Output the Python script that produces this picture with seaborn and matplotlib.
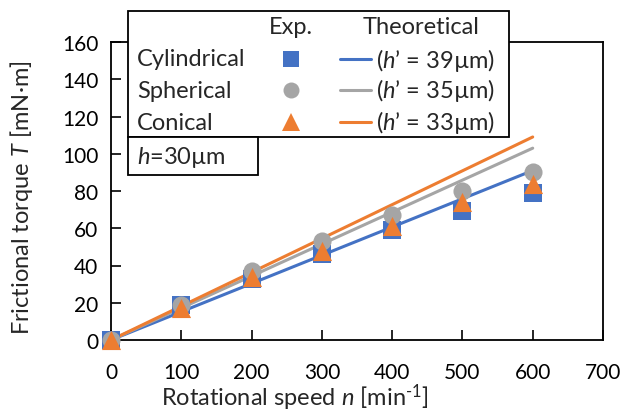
import matplotlib
matplotlib.use("Agg")
import matplotlib.pyplot as plt
import seaborn as sns
import pandas as pd
from matplotlib.patches import Rectangle
from matplotlib.lines import Line2D

# ---- data ----
speed = [0, 100, 200, 300, 400, 500, 600]
exp_cylindrical = [0, 19, 33, 46, 59, 69, 79]
exp_spherical = [0, 19, 37, 53, 67, 80, 90]
exp_conical = [0, 17, 34, 48, 61, 74, 84]

theory_speed = [0, 600]
theory_cylindrical = [0, 91]
theory_spherical = [0, 103]
theory_conical = [0, 109]

shapes = ["Cylindrical", "Spherical", "Conical"]
theory_h = ["39", "35", "33"]
x_ticks = [0, 100, 200, 300, 400, 500, 600, 700]
y_ticks = [0, 20, 40, 60, 80, 100, 120, 140, 160]

colors = {"Cylindrical": "#4472C4", "Spherical": "#A5A5A5", "Conical": "#ED7D31"}
markers = {"Cylindrical": "s", "Spherical": "o", "Conical": "^"}

exp_df = pd.DataFrame({
    "n": speed * 3,
    "T": exp_cylindrical + exp_spherical + exp_conical,
    "shape": sum([[s] * len(speed) for s in shapes], []),
})
th_df = pd.DataFrame({
    "n": theory_speed * 3,
    "T": theory_cylindrical + theory_spherical + theory_conical,
    "shape": sum([[s] * len(theory_speed) for s in shapes], []),
})

sns.set_style("ticks")
plt.rcParams["font.family"] = ["Lato", "DejaVu Sans"]
plt.rcParams["mathtext.fontset"] = "custom"
plt.rcParams["mathtext.it"] = "Lato:italic"
plt.rcParams["mathtext.rm"] = "Lato"

fig = plt.figure(figsize=(6.25, 4.14), dpi=100)
W, H = 625, 414
ax = fig.add_axes([111 / W, 1 - 341 / H, (603 - 111) / W, (341 - 43) / H])

sns.lineplot(data=th_df, x="n", y="T", hue="shape", palette=colors,
             linewidth=2.2, legend=False, ax=ax, zorder=2)
for s in shapes:
    sub = exp_df[exp_df["shape"] == s]
    sns.scatterplot(data=sub, x="n", y="T", color=colors[s], marker=markers[s],
                    s=170 if s != "Conical" else 190, linewidth=0, legend=False,
                    ax=ax, zorder=3)

ax.set_xlim(0, 700)
ax.set_ylim(0, 160)
ax.set_xticks(x_ticks)
ax.set_yticks(y_ticks)
ax.tick_params(direction="in", length=7, width=1.2, labelsize=15, colors="black")
ax.tick_params(axis="x", pad=16)
ax.tick_params(axis="y", pad=9)
for sp in ax.spines.values():
    sp.set_visible(True)
    sp.set_linewidth(1.3)
    sp.set_color("black")
ax.set_xlabel("Rotational speed $n$ [min$^{\\text{-1}}$]", fontsize=17, va="center")
ax.xaxis.set_label_coords(0.374, -0.19)
ax.set_ylabel("Frictional torque $T$ [mN\u00b7m]", fontsize=17, va="center")
ax.yaxis.set_label_coords(-0.181, 0.48)
ax.margins(0)
for c in ax.collections:
    c.set_clip_on(False)

# ---- custom table legend ----
def fx(px):
    return px / W

def fy(py):
    return 1 - py / H

fig.patches.append(Rectangle((fx(128), fy(138)), fx(509) - fx(128), fy(12) - fy(138),
                             transform=fig.transFigure, facecolor="white",
                             edgecolor="black", linewidth=1.3, zorder=10))
fig.patches.append(Rectangle((fx(128), fy(176)), fx(258) - fx(128), fy(138) - fy(176),
                             transform=fig.transFigure, facecolor="white",
                             edgecolor="black", linewidth=1.3, zorder=10))
fs = 17
fig.text(fx(291), fy(28), "Exp.", ha="center", va="center", fontsize=fs, zorder=11)
fig.text(fx(421), fy(28), "Theoretical", ha="center", va="center", fontsize=fs, zorder=11)
rows_y = [60, 91, 123]
for s, hv, yy in zip(shapes, theory_h, rows_y):
    fig.text(fx(137), fy(yy), s, ha="left", va="center", fontsize=fs, zorder=11)
    fig.lines.append(Line2D([fx(291)], [fy(yy)], transform=fig.transFigure,
                            marker=markers[s], markersize=11.5 if s != "Conical" else 13,
                            color=colors[s], markeredgewidth=0, linestyle="none",
                            zorder=12))
    fig.lines.append(Line2D([fx(340), fx(371)], [fy(yy), fy(yy)], transform=fig.transFigure,
                            color=colors[s], linewidth=2.2, zorder=12))
    fig.text(fx(376), fy(yy), "($h$\u2019 = " + hv + "\u00b5m)", ha="left",
             va="center", fontsize=fs, zorder=11)
fig.text(fx(137), fy(158), "$h$=30\u00b5m", ha="left", va="center", fontsize=fs, zorder=11)

fig.savefig("out.png", dpi=100)
